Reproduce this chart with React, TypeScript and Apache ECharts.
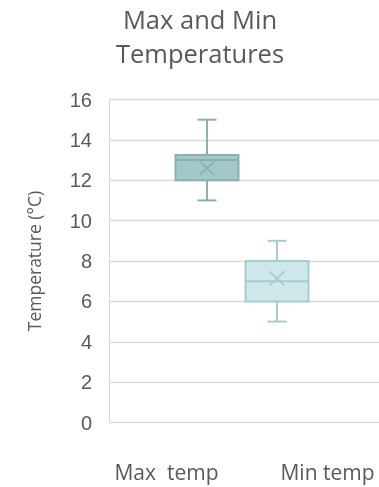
import React, { useEffect, useRef } from "react";
import * as echarts from "echarts";

const titleLine1 = "Max and Min";
const titleLine2 = "Temperatures";
const yAxisName = "Temperature (°C)";
const categories = ["Max  temp", "Min temp"];
// [min, q1, median, q3, max, mean]
const mins = [11, 5];
const q1s = [12, 6];
const medians = [13, 7];
const q3s = [13.25, 8];
const maxs = [15, 9];
const means = [12.6, 7.14];
const fills = ["#a4c7c8", "#cde7ea"];
const strokes = ["#8cafb0", "#a8cbce"];

export default function App() {
  const ref = useRef<HTMLDivElement>(null);
  useEffect(() => {
    if (!ref.current) return;
    const chart = echarts.init(ref.current, null, { renderer: "svg" });
    const boxData = categories.map((_, i) => [i, mins[i], q1s[i], medians[i], q3s[i], maxs[i], means[i]]);
    const top = 99.5;
    const height = 323;
    const titleFont = {
      fontFamily: "Open Sans",
      fontSize: 25.5,
      fontWeight: "normal",
      color: "#595959",
      lineHeight: 34,
    };
    chart.setOption({
      animation: false,
      title: {
        text: titleLine1,
        subtext: titleLine2,
        left: 200,
        top: 2,
        padding: 0,
        itemGap: 0,
        textAlign: "center",
        textStyle: titleFont,
        subtextStyle: titleFont,
      },
      grid: [
        { left: 109, top, width: 300, height },
        { left: 172, top, width: 140, height },
        { left: 166.5, top, width: 161, height },
      ],
      xAxis: [
        { gridIndex: 0, type: "value", min: 0, max: 1, show: false },
        { gridIndex: 1, type: "category", data: categories, show: false },
        {
          gridIndex: 2,
          type: "category",
          data: categories,
          boundaryGap: false,
          axisLine: { show: false },
          axisTick: { show: false },
          axisLabel: {
            margin: 39,
            fontSize: 21,
            fontFamily: "Open Sans",
            color: "#595959",
          },
        },
      ],
      yAxis: [
        {
          gridIndex: 0,
          type: "value",
          min: 0,
          max: 16,
          interval: 2,
          name: yAxisName,
          nameLocation: "middle",
          nameGap: 66,
          nameTextStyle: { fontSize: 17.5, color: "#595959", fontFamily: "Open Sans" },
          axisLine: { show: true, lineStyle: { color: "#d9d9d9", width: 1 } },
          axisTick: { show: false },
          axisLabel: { margin: 17, fontSize: 20, color: "#595959", fontFamily: "Liberation Sans" },
          splitLine: { show: true, lineStyle: { color: "#d9d9d9", width: 1.3 } },
        },
        { gridIndex: 1, type: "value", min: 0, max: 16, interval: 2, show: false },
        { gridIndex: 2, type: "value", min: 0, max: 16, interval: 2, show: false },
      ],
      series: [
        {
          type: "custom",
          xAxisIndex: 1,
          yAxisIndex: 1,
          data: boxData,
          clip: false,
          encode: { x: 0, y: [1, 2, 3, 4, 5, 6] },
          renderItem: (params: any, api: any) => {
            const x = api.value(0);
            const lo = api.coord([x, api.value(1)]);
            const q1 = api.coord([x, api.value(2)]);
            const med = api.coord([x, api.value(3)]);
            const q3 = api.coord([x, api.value(4)]);
            const hi = api.coord([x, api.value(5)]);
            const mean = api.coord([x, api.value(6)]);
            const bw = api.size([1, 0])[0] * 0.9;
            const cap = 9.5;
            const cx = lo[0];
            const i = params.dataIndex;
            const stroke = strokes[i];
            const ls = { stroke, lineWidth: 2, fill: "none" };
            const xs = 7.5;
            const ys = 7;
            return {
              type: "group",
              children: [
                { type: "line", shape: { x1: cx, y1: hi[1], x2: cx, y2: q3[1] }, style: ls },
                { type: "line", shape: { x1: cx - cap, y1: hi[1], x2: cx + cap, y2: hi[1] }, style: ls },
                { type: "line", shape: { x1: cx, y1: lo[1], x2: cx, y2: q1[1] }, style: ls },
                { type: "line", shape: { x1: cx - cap, y1: lo[1], x2: cx + cap, y2: lo[1] }, style: ls },
                {
                  type: "rect",
                  shape: { x: cx - bw / 2, y: q3[1], width: bw, height: q1[1] - q3[1] },
                  style: { fill: fills[i], stroke, lineWidth: 2 },
                },
                { type: "line", shape: { x1: cx - bw / 2, y1: med[1], x2: cx + bw / 2, y2: med[1] }, style: ls },
                { type: "line", shape: { x1: mean[0] - xs, y1: mean[1] - ys, x2: mean[0] + xs, y2: mean[1] + ys }, style: { ...ls, lineWidth: 1.5 } },
                { type: "line", shape: { x1: mean[0] - xs, y1: mean[1] + ys, x2: mean[0] + xs, y2: mean[1] - ys }, style: { ...ls, lineWidth: 1.5 } },
              ],
            };
          },
        },
      ],
    });
    return () => chart.dispose();
  }, []);
  return <div ref={ref} style={{ position: "fixed", left: 0, top: 0, width: 379, height: 487 }} />;
}
